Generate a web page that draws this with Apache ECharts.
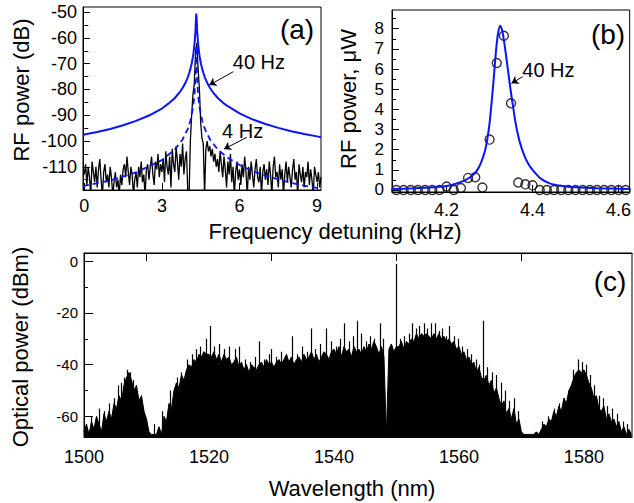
<!DOCTYPE html>
<html>
<head>
<meta charset="utf-8">
<title>RF and optical spectra</title>
<script src="https://cdn.jsdelivr.net/npm/echarts@6/dist/echarts.min.js"></script>
<style>
  html, body { margin: 0; padding: 0; background: #fff; }
  #chart { width: 634px; height: 503px; }
</style>
</head>
<body>
<div id="chart"></div>
<script>
// (a) RF beat note, dB -- Lorentzian fits and measured trace
const aFit40 = [[-0.05,-97.8],[0,-97.5],[0.5,-96.5],[1,-95.3],[1.5,-93.9],[2,-92.2],[2.5,-90.1],[3,-87.4],[3.25,-85.5],[3.5,-83.3],[3.7,-80.9],[3.8,-79.4],[3.9,-77.6],[4.0,-75.3],[4.05,-73.8],[4.1,-72.1],[4.15,-70.0],[4.2,-67.3],[4.22,-66.0],[4.25,-63.2],[4.27,-61.3],[4.28,-59.5],[4.3,-57.2],[4.31,-54],[4.33,-50.5],[4.35,-54],[4.36,-57.2],[4.38,-59.5],[4.39,-61.3],[4.41,-63.2],[4.44,-66.0],[4.46,-67.3],[4.51,-70.0],[4.56,-72.1],[4.61,-73.8],[4.66,-75.3],[4.76,-77.6],[4.86,-79.4],[4.96,-80.9],[5.16,-83.3],[5.41,-85.5],[5.5,-86.2],[6,-89.3],[6.5,-91.6],[7,-93.4],[7.5,-94.9],[8,-96.2],[8.5,-97.3],[9,-98.2],[9.15,-98.5]];
const aFit4 = [[-0.05,-117.6],[0,-117.4],[1,-115.3],[2,-112.2],[3,-107.4],[3.5,-103.3],[3.8,-99.4],[4.0,-95.3],[4.1,-92.1],[4.2,-87.2],[4.25,-83.0],[4.28,-79.0],[4.3,-74.5],[4.32,-66],[4.33,-63],[4.34,-66],[4.36,-74.5],[4.38,-79.0],[4.41,-83.0],[4.46,-87.2],[4.56,-92.1],[4.66,-95.3],[4.86,-99.4],[5.16,-103.3],[5.5,-106.2],[6,-109.3],[6.5,-111.6],[7,-113.4],[7.5,-114.9],[8,-116.2],[8.5,-117.3],[9,-118.2],[9.15,-118.5]];
const aMeasStart = 0;
const aMeasStep = 0.05;
const aMeas = [
  -113,-109,-117,-110,-114,-121,-108,-112,-116,-110,
  -118,-111,-107,-115,-121,-112,-109,-116,-113,-118,
  -110,-114,-121,-116,-112,-118,-115,-121,-113,-117,
  -111,-109,-114,-106,-112,-117,-110,-113,-121,-115,
  -112,-118,-110,-114,-108,-116,-113,-121,-111,-109,
  -115,-110,-106,-113,-117,-108,-111,-105,-114,-109,
  -112,-107,-116,-104,-110,-113,-106,-118,-103,-109,
  -112,-102,-108,-115,-105,-110,-101,-113,-107,-104,
  -119.5,-121,-100,-90,-82,-78,-66,-62,-72,-80,-93,-99,-101,-121,-103,-100,-104,-102,-106,-103,-108,
  -105,-110,-107,-112,-104,-109,-114,-106,-111,-118,
  -108,-113,-105,-116,-110,-121,-112,-108,-115,-111,
  -117,-109,-114,-106,-112,-121,-110,-115,-108,-113,
  -118,-111,-107,-114,-116,-110,-121,-112,-109,-115,
  -111,-117,-108,-113,-121,-110,-106,-114,-112,-118,
  -109,-115,-111,-121,-113,-108,-116,-110,-114,-118,
  -111,-107,-115,-112,-121,-109,-113,-116,-110,-118,
  -112,-114,-108,-117,-111,-115,-121,-110,-113,-116,
  -112,-118,-114
];
const aLabelsX = [0, 3, 6, 9];
const aLabelsY = [-110, -100, -90, -80, -70, -60, -50];
const aMinorY = [-115, -105, -95, -85, -75, -65, -55];
const aNotes = [
  { text: '40 Hz', at: [6.75, -69.3], from: [5.76, -73.1], to: [4.83, -78.3] },
  { text: '4 Hz', at: [6.12, -96.1], from: [6.28, -98.6], to: [5.40, -103.1] }
];

// (b) RF power near the beat note, microwatts
const bFit = [[4.073,0.05],[4.12,0.08],[4.16,0.12],[4.2,0.2],[4.22,0.3],[4.24,0.45],[4.25,0.57],[4.26,0.72],[4.27,0.95],[4.28,1.35],[4.29,2.0],[4.295,2.55],[4.3,3.3],[4.305,4.4],[4.31,5.6],[4.315,6.9],[4.32,7.8],[4.325,8.15],[4.33,7.85],[4.335,7.2],[4.34,6.4],[4.345,5.6],[4.35,4.8],[4.355,4.1],[4.36,3.4],[4.365,2.85],[4.37,2.4],[4.38,1.75],[4.39,1.3],[4.4,1.0],[4.42,0.55],[4.44,0.33],[4.47,0.2],[4.5,0.14],[4.55,0.09],[4.626,0.05]];
const bMeasX = [4.0833,4.1,4.1167,4.1333,4.15,4.1667,4.1833,4.2,4.2167,4.2333,4.25,4.2667,4.2833,4.3,4.3167,4.3333,4.35,4.3667,4.3833,4.4,4.4167,4.4333,4.45,4.4667,4.4833,4.5,4.5167,4.5333,4.55,4.5667,4.5833,4.6,4.6167];
const bMeasY = [0,0,0,0,0,0,0,0.17,0,0.1,0.6,0.63,0.12,2.5,6.3,7.65,4.3,0.37,0.28,0.23,0,0,0,0,0,0,0,0,0,0,0,0,0];
const bLabelsX = [4.2, 4.4, 4.6];
const bLabelsY = [0, 1, 2, 3, 4, 5, 6, 7, 8];
const bMinorY = [0.5, 1.5, 2.5, 3.5, 4.5, 5.5, 6.5, 7.5, 8.5];
const bNote = { text: '40 Hz', at: [4.437, 5.95], from: [4.377, 5.62], to: [4.351, 5.29] };

// (c) optical spectrum, dBm: filled base trace plus the single tall modes
const cStart = 1500;
const cStep = 0.4;
const cPower = [
  -66,-63,-67,-62,-65,-60,-63,-66,-59,-62,
  -58,-61,-55,-57,-52,-54,-48,-45,-43,-46,
  -50,-48,-54,-52,-58,-61,-66,-67,-67,-67,
  -64,-67,-60,-62,-55,-57,-50,-47,-49,-44,
  -46,-42,-40,-41,-38,-39,-36,-37,-35,-36,
  -36,-37,-35,-38,-36,-39,-36,-38,-37,-40,
  -39,-37,-41,-39,-42,-40,-43,-40,-41,-42,
  -40,-39,-41,-38,-40,-39,-41,-39,-38,-40,
  -38,-36,-39,-37,-40,-38,-37,-39,-36,-38,
  -37,-35,-38,-36,-39,-37,-35,-36,-38,-35,
  -34,-36,-33,-37,-33,-35,-34,-37,-33,-35,
  -34,-36,-33,-35,-32,-34,-31,-33,-36,-33,
  -37,-67,-34,-32,-35,-33,-33,-31,-34,-31,
  -32,-30,-31,-28,-30,-28,-29,-28,-29,-30,
  -28,-30,-28,-30,-29,-31,-30,-32,-31,-34,
  -33,-36,-35,-38,-37,-40,-39,-43,-41,-45,
  -46,-44,-48,-46,-51,-49,-53,-56,-54,-59,
  -57,-61,-57,-63,-61,-66,-67,-67,-67,-67,
  -67,-66,-67,-65,-63,-64,-61,-62,-58,-60,
  -56,-58,-53,-55,-50,-48,-45,-43,-42,-43,
  -42,-44,-47,-49,-53,-52,-57,-58,-56,-61,
  -59,-62,-61,-64,-62,-66,-64,-67,-65,-67
];
const cSpikes = [
  [1501.2,-60],[1502.4,-57],[1503.3,-58],[1504.1,-55],[1504.9,-53],[1505.5,-48],[1506.0,-47],[1506.5,-45],
  [1507.0,-42],[1507.4,-43],[1507.9,-46],[1508.4,-50],[1509.0,-53],[1509.5,-58],[1511.2,-63],
  [1512.6,-58],[1513.8,-50],[1514.9,-45],[1515.6,-43],[1516.6,-38],[1517.3,-36],[1518.0,-34],[1518.6,-33],
  [1519.1,-35],[1519.6,-30],[1520.2,-25],[1520.9,-33],[1521.7,-32],[1522.5,-34],[1523.3,-33],[1524.2,-34],
  [1524.9,-33],[1525.8,-38],[1526.6,-39],[1527.4,-37],[1528.1,-31],[1528.9,-38],[1529.6,-36],[1530.0,-34],
  [1530.8,-37],[1531.5,-35],[1532.3,-37],[1533.4,-29],[1534.2,-36],[1535.0,-33],[1535.7,-35],[1536.3,-26],
  [1537.0,-34],[1537.8,-32],[1538.7,-26],[1539.5,-31],[1540.3,-33],[1541.0,-30],[1541.7,-24],[1542.4,-31],
  [1543.1,-29],[1543.7,-23],[1544.4,-28],[1545.1,-31],[1545.8,-29],[1546.5,-30],[1547.4,-24],[1547.9,-30],
  [1549.9,-1],[1550.6,-30],[1551.3,-29],[1552.0,-28],[1552.5,-24],[1553.1,-26],[1553.7,-25],[1554.5,-24],
  [1555.0,-26],[1555.6,-24],[1556.2,-24],[1556.8,-27],[1557.4,-26],[1558.0,-29],[1558.5,-25],[1559.2,-29],
  [1559.9,-30],[1560.6,-33],[1561.3,-34],[1562.0,-36],[1562.7,-38],[1563.3,-40],[1563.9,-23],[1564.6,-41],
  [1565.3,-43],[1566.0,-44],[1566.7,-47],[1567.4,-50],[1568.1,-54],[1568.8,-53],[1569.5,-58],
  [1573.4,-62],[1574.3,-60],[1575.2,-57],[1576.1,-55],[1576.9,-53],[1577.7,-50],[1578.3,-42],[1579.1,-38],
  [1579.8,-39],[1580.4,-40],[1581.0,-44],[1581.7,-48],[1582.4,-52],[1583.1,-53],[1583.8,-56],[1584.6,-57],
  [1585.4,-59],[1586.3,-62],[1587.0,-63]
];
const cLabelsX = [1500, 1520, 1540, 1560, 1580];
const cTopTicks = [1510, 1530, 1550, 1570];
const cLabelsY = [-60, -40, -20, 0];
const cMinorY = [-50, -30, -10];

const FONT = '"Liberation Sans", Arial, Helvetica, sans-serif';
const BLUE = '#0a14f5';
const ranges = {
  a: { x: [-0.05, 9.15], y: [-119, -48] },
  b: { x: [4.073, 4.626], y: [-0.1, 8.93] },
  c: { x: [1500, 1587.7], y: [-68, 3.2] }
};

const xAxes = [];
const yAxes = [];
function addAxis(list, o) {
  list.push({
    type: 'value', gridIndex: o.grid, min: o.range[0], max: o.range[1], position: o.pos,
    axisLine: { show: true, onZero: false, lineStyle: { color: '#000', width: 1 } },
    axisTick: { show: !!o.ticks, inside: true, length: o.tickLen || 7, customValues: o.ticks, lineStyle: { color: '#000', width: 1 } },
    axisLabel: {
      show: !!o.labels, customValues: o.labels, fontSize: o.font, margin: o.margin,
      color: '#000', fontFamily: FONT, formatter: v => String(v)
    },
    splitLine: { show: false }
  });
  const idx = list.length - 1;
  if (o.minor) {
    list.push({
      type: 'value', gridIndex: o.grid, min: o.range[0], max: o.range[1], position: o.pos,
      axisLine: { show: false }, axisLabel: { show: false }, splitLine: { show: false },
      axisTick: { show: true, inside: true, length: 4, customValues: o.minor, lineStyle: { color: '#000', width: 1 } }
    });
  }
  return idx;
}

const axA = addAxis(xAxes, { grid: 0, range: ranges.a.x, pos: 'bottom', labels: aLabelsX, ticks: aLabelsX, font: 18, margin: 7 });
const ayA = addAxis(yAxes, { grid: 0, range: ranges.a.y, pos: 'left', labels: aLabelsY, ticks: aLabelsY, minor: aMinorY, font: 18, margin: 6 });
const axB = addAxis(xAxes, { grid: 1, range: ranges.b.x, pos: 'bottom', labels: bLabelsX, ticks: bLabelsX, font: 18, margin: 9 });
const ayB = addAxis(yAxes, { grid: 1, range: ranges.b.y, pos: 'left', labels: bLabelsY, ticks: bLabelsY, minor: bMinorY, font: 17, margin: 8 });
const axC = addAxis(xAxes, { grid: 2, range: ranges.c.x, pos: 'bottom', labels: cLabelsX, ticks: cLabelsX, tickLen: 8, font: 18, margin: 11 });
addAxis(xAxes, { grid: 2, range: ranges.c.x, pos: 'top', ticks: cTopTicks, tickLen: 8 });
const ayC = addAxis(yAxes, { grid: 2, range: ranges.c.y, pos: 'left', labels: cLabelsY, ticks: cLabelsY, minor: cMinorY, tickLen: 9, font: 15, margin: 6 });

function arrow(n) {
  return [{ coord: n.from }, { coord: n.to }];
}
function noteText(n) {
  return { name: n.text, coord: n.at };
}
const noteStyle = {
  symbol: 'circle', symbolSize: 1, silent: true,
  itemStyle: { color: 'transparent' },
  label: { show: true, position: 'inside', formatter: '{b}', color: '#000', fontSize: 20, fontFamily: FONT }
};
const arrowStyle = {
  symbol: ['none', 'arrow'], symbolSize: 7, silent: true,
  lineStyle: { color: '#000', width: 1, type: 'solid' },
  label: { show: false }
};

const measA = aMeas.map((v, i) => [+(aMeasStart + i * aMeasStep).toFixed(2), v]);
const specC = cPower.map((v, i) => [+(cStart + i * cStep).toFixed(1), v]);

const option = {
  animation: false,
  textStyle: { fontFamily: FONT, color: '#000' },
  grid: [
    { left: 83, top: 7, width: 238, height: 183, show: true, borderColor: '#000', borderWidth: 1 },
    { left: 392, top: 10, width: 240, height: 182, show: true, borderColor: '#000', borderWidth: 1 },
    { left: 84, top: 253, width: 548, height: 184, show: true, borderColor: '#000', borderWidth: 1 }
  ],
  xAxis: xAxes,
  yAxis: yAxes,
  series: [
    {
      type: 'line', xAxisIndex: axA, yAxisIndex: ayA, data: measA, showSymbol: false,
      lineStyle: { color: '#000', width: 1.3 }
    },
    {
      type: 'line', xAxisIndex: axA, yAxisIndex: ayA, data: aFit4, showSymbol: false,
      lineStyle: { color: BLUE, width: 1.8, type: [6, 4] },
      markLine: Object.assign({ data: [arrow(aNotes[1])] }, arrowStyle),
      markPoint: Object.assign({ data: [noteText(aNotes[1])] }, noteStyle)
    },
    {
      type: 'line', xAxisIndex: axA, yAxisIndex: ayA, data: aFit40, showSymbol: false,
      lineStyle: { color: BLUE, width: 2 },
      markLine: Object.assign({ data: [arrow(aNotes[0])] }, arrowStyle),
      markPoint: Object.assign({ data: [noteText(aNotes[0])] }, noteStyle)
    },
    {
      type: 'line', xAxisIndex: axB, yAxisIndex: ayB, data: bFit, showSymbol: false, smooth: 0.3,
      lineStyle: { color: BLUE, width: 2 },
      markLine: Object.assign({ data: [arrow(bNote)] }, arrowStyle),
      markPoint: Object.assign({ data: [noteText(bNote)] }, noteStyle)
    },
    {
      type: 'scatter', xAxisIndex: axB, yAxisIndex: ayB,
      data: bMeasX.map((x, i) => [x, bMeasY[i]]),
      symbol: 'circle', symbolSize: 9,
      itemStyle: { color: 'transparent', borderColor: '#000', borderWidth: 1.4 }
    },
    {
      type: 'line', xAxisIndex: axC, yAxisIndex: ayC, data: specC, showSymbol: false,
      lineStyle: { color: '#000', width: 1 },
      areaStyle: { color: '#000', opacity: 1, origin: 'start' },
      markLine: {
        symbol: ['none', 'none'], silent: true, label: { show: false },
        lineStyle: { color: '#000', width: 1.2, type: 'solid' },
        data: cSpikes.map(s => [{ coord: [s[0], ranges.c.y[0]] }, { coord: s }])
      }
    }
  ],
  graphic: [
    { type: 'text', x: 21, y: 90, rotation: Math.PI / 2, style: { text: 'RF power (dB)', font: '22px ' + FONT, fill: '#000', align: 'center', verticalAlign: 'middle' } },
    { type: 'text', x: 348, y: 99, rotation: Math.PI / 2, style: { text: 'RF power, μW', font: '22px ' + FONT, fill: '#000', align: 'center', verticalAlign: 'middle' } },
    { type: 'text', x: 20, y: 347, rotation: Math.PI / 2, style: { text: 'Optical power (dBm)', font: '22px ' + FONT, fill: '#000', align: 'center', verticalAlign: 'middle' } },
    { type: 'text', x: 335, y: 231, style: { text: 'Frequency detuning (kHz)', font: '22px ' + FONT, fill: '#000', align: 'center', verticalAlign: 'middle' } },
    { type: 'text', x: 352, y: 488, style: { text: 'Wavelength (nm)', font: '22px ' + FONT, fill: '#000', align: 'center', verticalAlign: 'middle' } },
    { type: 'text', x: 297, y: 29, style: { text: '(a)', font: '28px ' + FONT, fill: '#000', align: 'center', verticalAlign: 'middle' } },
    { type: 'text', x: 608, y: 34, style: { text: '(b)', font: '28px ' + FONT, fill: '#000', align: 'center', verticalAlign: 'middle' } },
    { type: 'text', x: 610, y: 281, style: { text: '(c)', font: '28px ' + FONT, fill: '#000', align: 'center', verticalAlign: 'middle' } }
  ]
};

const chart = echarts.init(document.getElementById('chart'), null, { renderer: 'svg' });
chart.setOption(option);
</script>
</body>
</html>
